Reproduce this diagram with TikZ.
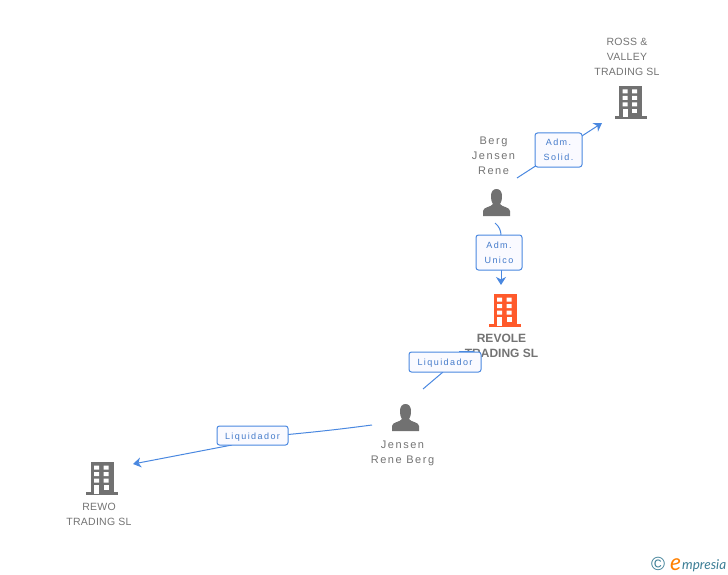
\documentclass[tikz,border=0pt]{standalone}
\usepackage{fontspec}
\setmainfont{Liberation Sans}
\newfontfamily\tagfont[LetterSpace=16]{Liberation Sans}
\newfontfamily\namefont[LetterSpace=2.5]{Liberation Sans}
\newfontfamily\personfont[LetterSpace=14]{Liberation Sans}
\newfontfamily\logofont{Lato}
\usetikzlibrary{positioning,arrows.meta}
\definecolor{icongrey}{HTML}{717171}
\definecolor{iconred}{HTML}{FF5A2B}
\definecolor{linkblue}{HTML}{4A88E0}
\definecolor{logoteal}{HTML}{3B7D95}
\tikzset{
	building/.pic={
		\fill (-11.5,0) rectangle (11.5,-33);
		\fill (-16,0) rectangle (16,-3);
		\foreach \row in {-29.5,-23,-16.5}
			\fill[white] (-8,\row) rectangle +(5,4) (1.5,\row) rectangle +(5,4);
		\fill[white] (-8,-1.5) rectangle (-3,-10);
		\fill[white] (1.5,-10) rectangle +(5,4.5);
	},
	person/.pic={
		\fill (-13.5,0) -- (-13.5,-5) .. controls (-13.5,-9) and (-5,-9) .. (-3.5,-12)
			.. controls (-6.5,-16) and (-7,-27) .. (0,-27)
			.. controls (7,-27) and (6.5,-16) .. (3.5,-12)
			.. controls (5,-9) and (13.5,-9) .. (13.5,-5) -- (13.5,0) -- cycle;
	},
	caption/.style={font=\namefont\fontsize{10.5}{15}\selectfont, text=black!55, align=center, inner sep=0pt},
	personcap/.style={caption, font=\personfont\fontsize{11}{15}\selectfont},
	tag/.style={draw=linkblue, fill=blue!2, rounded corners=2.5pt, line width=1pt, align=center,
		font=\tagfont\fontsize{9}{15}\selectfont, text=linkblue!90!black, inner sep=0pt},
	link/.style={color=linkblue, line width=1pt},
	tip/.style={-{Stealth[length=8pt,width=10pt,inset=2.5pt]}}
}
\begin{document}
\begin{tikzpicture}[x=1pt,y=-1pt]
	\useasboundingbox (0,0) rectangle (728,575);

	\pic[icongrey] at (630.5,119) {building};
	\pic[icongrey] at (496.5,216) {person};
	\pic[iconred] at (505,327) {building};
	\pic[icongrey] at (405.5,431) {person};
	\pic[icongrey] at (102,495) {building};

	\node[caption] (ross) at (627,56.5) {ROSS \&\\VALLEY\\TRADING SL};
	\node[personcap] (berg) at (493.5,155.5) {Berg\\Jensen\\Rene};
	\node[caption, font=\bfseries\fontsize{12}{15}\selectfont] (revole) at (501.5,346) {REVOLE\\TRADING SL};
	\node[personcap] (jensen) at (402.5,453.5) {Jensen\\Rene Berg};
	\node[caption] (rewo) at (99,514.5) {REWO\\TRADING SL};

	\coordinate (bergout) at (517,178);
	\coordinate (rossin) at (602,123);
	\coordinate (bergdown) at (495,223);
	\coordinate (unicoin) at (501,236);
	\coordinate (unicoout) at (501,270);
	\coordinate (revolein) at (501,285);
	\coordinate (jensenup) at (423,389);
	\coordinate (liqin) at (443,372);
	\coordinate (liqout) at (474,351);
	\coordinate (revoleout) at (459,351);
	\coordinate (jensenleft) at (372,425);
	\coordinate (liqlin) at (288,434.5);
	\coordinate (liqlout) at (232,445);
	\coordinate (rewoin) at (133,464);

	\path[link]
		(bergout) edge[tip] (rossin)
		(bergdown) edge[bend left=25] (unicoin)
		(unicoout) edge[tip] (revolein)
		(jensenup) edge (liqin)
		(liqout) edge (revoleout)
		(jensenleft) edge[bend left=1] (liqlin)
		(liqlout) edge[tip] (rewoin);

	\node[tag, minimum width=47pt, minimum height=34pt] (solid) at (558.5,150) {Adm.\\Solid.};
	\node[tag, minimum width=46pt, minimum height=35pt] (unico) at (499,252.5) {Adm.\\Unico};
	\node[tag, minimum width=72pt, minimum height=20pt] (liqup) at (445,362) {\raisebox{-1.2pt}[7pt][2pt]{Liquidador}};
	\node[tag, minimum width=71pt, minimum height=19pt] (liqleft) at (252.5,435.5) {\raisebox{-1.2pt}[7pt][2pt]{Liquidador}};

	\node[font=\fontsize{19}{19}\selectfont, text=logoteal, inner sep=0pt] (copyr) at (658,564) {\textcopyright};
	\node[anchor=base west, font=\logofont\itshape\fontsize{23}{23}\selectfont, text=orange, inner sep=0pt] (loge) at (670,570) {e};
	\node[anchor=base west, font=\logofont\itshape\fontsize{13.5}{13.5}\selectfont, text=logoteal, inner sep=0pt] (logo) at (682,569) {mpresia};
\end{tikzpicture}
\end{document}
